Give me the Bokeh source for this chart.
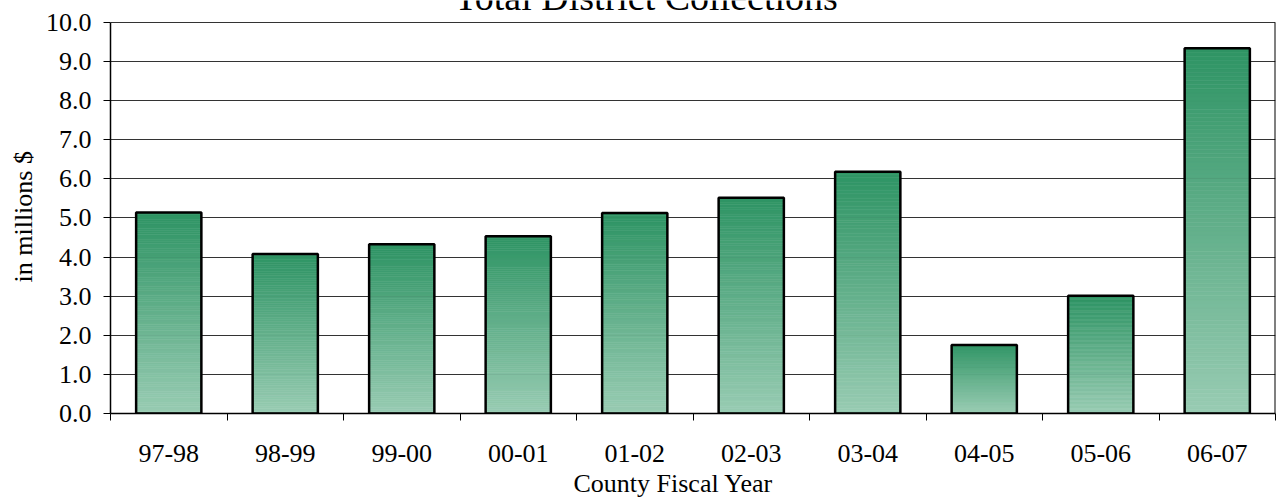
from bokeh.plotting import figure
from bokeh.models import Range1d, FixedTicker, NumeralTickFormatter, Label, ColumnDataSource, Title
from bokeh.embed import file_html
from bokeh.resources import INLINE

# Collections per county fiscal year, in millions of dollars
fiscal_years = ["97-98", "98-99", "99-00", "00-01", "01-02",
                "02-03", "03-04", "04-05", "05-06", "06-07"]
collections = [5.14, 4.08, 4.33, 4.53, 5.13, 5.52, 6.18, 1.75, 3.01, 9.34]
y_ticks = [0, 1, 2, 3, 4, 5, 6, 7, 8, 9, 10]

SERIF = "Liberation Serif"
TOP_RGB = (0x2E, 0x94, 0x64)      # dark green at the top of each bar
BOTTOM_RGB = (0x99, 0xCC, 0xB3)   # pale green at the base
STEPS = 90
BAR_WIDTH = 0.56
Y_MAX = 10
Y_HEADROOM = 0.562                # room above the value axis for the heading

centers = [i + 0.5 for i in range(len(fiscal_years))]
boundaries = list(range(len(fiscal_years) + 1))


def mix(t):
    r, g, b = (round(lo + (hi - lo) * t) for lo, hi in zip(BOTTOM_RGB, TOP_RGB))
    return f"#{r:02x}{g:02x}{b:02x}"


# Vertical gradient fill: each bar is sliced into thin bands, light at the base, dark at the top
slices = dict(left=[], right=[], bottom=[], top=[], color=[])
for c, v in zip(centers, collections):
    for k in range(STEPS):
        slices["left"].append(c - BAR_WIDTH / 2)
        slices["right"].append(c + BAR_WIDTH / 2)
        slices["bottom"].append(v * k / STEPS)
        slices["top"].append(v * (k + 1) / STEPS)
        slices["color"].append(mix((k + 0.5) / STEPS))

p = figure(width=1276, height=502, output_backend="svg", toolbar_location=None,
           x_range=Range1d(0, len(fiscal_years)), y_range=Range1d(0, Y_MAX + Y_HEADROOM),
           min_border_left=110, min_border_right=1, min_border_top=0, min_border_bottom=89)
p.background_fill_color = "white"
p.border_fill_color = "white"
p.outline_line_color = None

p.quad(left="left", right="right", bottom="bottom", top="top", source=ColumnDataSource(slices),
       fill_color="color", line_color="color", line_width=0.6)
p.vbar(x=centers, width=BAR_WIDTH, bottom=0, top=collections,
       fill_color=None, line_color="black", line_width=2.5)

# Right edge of the plot area
p.segment(x0=[boundaries[-1]], y0=[0], x1=[boundaries[-1]], y1=[Y_MAX],
          line_color="black", line_width=2)

# Category axis: labels under each bar, tick marks on the category boundaries
p.xaxis.ticker = FixedTicker(ticks=centers, minor_ticks=boundaries)
p.xaxis.major_label_overrides = {c: name for c, name in zip(centers, fiscal_years)}
p.xaxis.major_tick_line_color = None
p.xaxis.major_tick_out = 0
p.xaxis.major_tick_in = 0
p.xaxis.minor_tick_line_color = "black"
p.xaxis.minor_tick_out = 7
p.xaxis.minor_tick_in = 0
p.xaxis.major_label_standoff = 24
p.xaxis.major_label_text_font = SERIF
p.xaxis.major_label_text_font_size = "26px"
p.xaxis.major_label_text_color = "black"
p.xaxis.axis_line_color = "black"
p.xaxis.axis_line_width = 1.5
p.xgrid.visible = False

# Value axis
p.yaxis.bounds = (0, Y_MAX)
p.yaxis.ticker = FixedTicker(ticks=y_ticks)
p.yaxis.formatter = NumeralTickFormatter(format="0.0")
p.yaxis.minor_tick_line_color = None
p.yaxis.major_tick_out = 7
p.yaxis.major_tick_in = 0
p.yaxis.major_tick_line_color = "black"
p.yaxis.major_label_standoff = 12
p.yaxis.major_label_text_font = SERIF
p.yaxis.major_label_text_font_size = "26px"
p.yaxis.major_label_text_color = "black"
p.yaxis.axis_line_color = "black"
p.yaxis.axis_line_width = 1.5
p.ygrid.grid_line_color = "#333333"
p.ygrid.grid_line_width = 1.2

# Chart heading, sitting just above the top grid line
p.add_layout(Label(x=4.597, y=10.65, text="Total District Collections",
                   text_font=SERIF, text_font_size="38px", text_color="black",
                   text_align="center", text_baseline="alphabetic"))

# Value axis title
p.add_layout(Title(text="in millions $", align="left", offset=131,
                   text_font=SERIF, text_font_size="26px", text_font_style="normal",
                   text_color="black", vertical_align="bottom", standoff=9), "left")

# Category axis title
p.add_layout(Title(text="County Fiscal Year", align="left", offset=463,
                   text_font=SERIF, text_font_size="26px", text_font_style="normal",
                   text_color="black", vertical_align="bottom", standoff=5), "below")

open("out.html", "w").write(file_html(p, INLINE))
